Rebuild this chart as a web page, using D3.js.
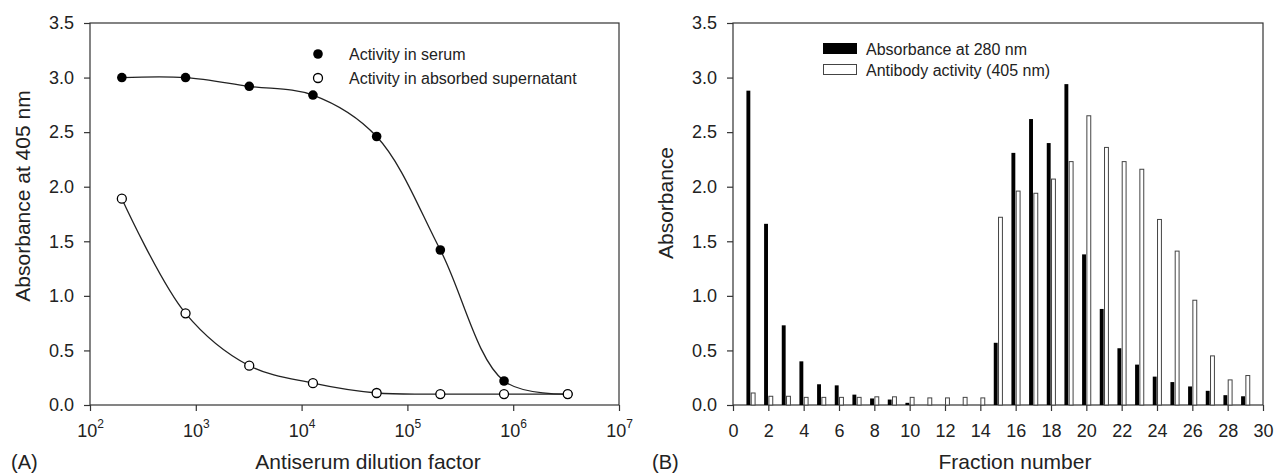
<!DOCTYPE html>
<html>
<head>
<meta charset="utf-8">
<script src="https://cdn.jsdelivr.net/npm/d3@7"></script>
<style>
  body { margin: 0; background: #fff; }
  svg { display: block; }
  text { font-family: "Liberation Sans", Arial, sans-serif; fill: #222; }
  .axis path, .axis line { stroke: #333; stroke-width: 1.2; }
  .axis text { font-size: 18px; fill: #222; }
</style>
</head>
<body>
<div id="grafico"></div>
<script>
// Painel A: diluição do antissoro
const diluicao = [200, 800, 3200, 12800, 51200, 204800, 819200, 3276800];
const soro = [3.00, 3.00, 2.92, 2.84, 2.46, 1.42, 0.22, 0.10];
const sobrenadante = [1.89, 0.84, 0.36, 0.20, 0.11, 0.10, 0.10, 0.10];
const ticksLog = [1e2, 1e3, 1e4, 1e5, 1e6, 1e7];

// Painel B: frações
const fracoes = d3.range(1, 30);
const abs280 = [2.88, 1.66, 0.73, 0.40, 0.19, 0.18, 0.095, 0.06, 0.05, 0.02,
                0, 0, 0, 0, 0.57, 2.31, 2.62, 2.40, 2.94, 1.38,
                0.88, 0.52, 0.37, 0.26, 0.21, 0.17, 0.13, 0.09, 0.08];
const atividade = [0.11, 0.08, 0.08, 0.07, 0.07, 0.07, 0.07, 0.075, 0.075, 0.07,
                   0.065, 0.065, 0.07, 0.065, 1.72, 1.96, 1.94, 2.07, 2.23, 2.65,
                   2.36, 2.23, 2.16, 1.70, 1.41, 0.96, 0.45, 0.23, 0.27];
const ticksY = [0, 0.5, 1.0, 1.5, 2.0, 2.5, 3.0, 3.5];
const ticksFracao = d3.range(0, 31, 2);

const largura = 1275, altura = 476;
const topo = 23, base = 405;

const svg = d3.select("#grafico")
    .append("svg")
    .attr("width", largura)
    .attr("height", altura);

function moldura(x0, x1) {
    svg.append("rect")
        .attr("x", x0).attr("y", topo)
        .attr("width", x1 - x0).attr("height", base - topo)
        .attr("fill", "none").attr("stroke", "#333").attr("stroke-width", 1.2);
}

// ---------- Painel A ----------
const xA = d3.scaleLog().domain([1e2, 1e7]).range([90, 619]);
const yA = d3.scaleLinear().domain([0, 3.5]).range([base, topo]);

moldura(90, 619);

svg.append("g")
    .attr("class", "axis")
    .attr("transform", `translate(90,0)`)
    .call(d3.axisLeft(yA).tickValues(ticksY).tickFormat(d3.format(".1f")).tickSize(6).tickPadding(10))
    .call(g => g.select(".domain").remove());

const eixoXA = svg.append("g")
    .attr("class", "axis")
    .attr("transform", `translate(0,${base})`)
    .call(d3.axisBottom(xA).tickValues(ticksLog).tickFormat("").tickSize(6))
    .call(g => g.select(".domain").remove());

eixoXA.selectAll(".tick")
    .append("text")
    .attr("y", 32)
    .attr("text-anchor", "middle")
    .each(function (d) {
        const t = d3.select(this);
        t.append("tspan").text("10");
        t.append("tspan").attr("dy", -9).attr("font-size", 12).text(Math.round(Math.log10(d)));
    });

const linha = d3.line()
    .x(d => xA(d[0]))
    .y(d => yA(d[1]))
    .curve(d3.curveCatmullRom.alpha(0.5));

const ptsSoro = diluicao.map((d, i) => [d, soro[i]]);
const ptsSobre = diluicao.map((d, i) => [d, sobrenadante[i]]);

svg.append("path").attr("d", linha(ptsSoro))
    .attr("fill", "none").attr("stroke", "#222").attr("stroke-width", 1.3);
svg.append("path").attr("d", linha(ptsSobre))
    .attr("fill", "none").attr("stroke", "#222").attr("stroke-width", 1.3);

svg.selectAll(".soro")
    .data(ptsSoro)
    .enter()
    .append("circle")
    .attr("cx", d => xA(d[0]))
    .attr("cy", d => yA(d[1]))
    .attr("r", 4.8)
    .attr("fill", "#000");

svg.selectAll(".sobre")
    .data(ptsSobre)
    .enter()
    .append("circle")
    .attr("cx", d => xA(d[0]))
    .attr("cy", d => yA(d[1]))
    .attr("r", 4.5)
    .attr("fill", "#fff")
    .attr("stroke", "#000")
    .attr("stroke-width", 1.3);

// legenda A
svg.append("circle").attr("cx", 318).attr("cy", 54).attr("r", 4.8).attr("fill", "#000");
svg.append("circle").attr("cx", 318).attr("cy", 78).attr("r", 4.5)
    .attr("fill", "#fff").attr("stroke", "#000").attr("stroke-width", 1.3);
svg.append("text").attr("x", 349).attr("y", 54).attr("dy", "0.35em")
    .attr("font-size", 16).text("Activity in serum");
svg.append("text").attr("x", 349).attr("y", 78).attr("dy", "0.35em")
    .attr("font-size", 16).text("Activity in absorbed supernatant");

svg.append("text")
    .attr("transform", "translate(23,196) rotate(-90)")
    .attr("text-anchor", "middle").attr("dy", "0.35em")
    .attr("font-size", 21).text("Absorbance at 405 nm");
svg.append("text").attr("x", 368).attr("y", 469)
    .attr("text-anchor", "middle").attr("font-size", 21).text("Antiserum dilution factor");
svg.append("text").attr("x", 11).attr("y", 469)
    .attr("font-size", 20).text("(A)");

// ---------- Painel B ----------
const xB = d3.scaleLinear().domain([0, 30]).range([733, 1263]);
const yB = d3.scaleLinear().domain([0, 3.5]).range([base, topo]);

moldura(733, 1263);

svg.append("g")
    .attr("class", "axis")
    .attr("transform", `translate(733,0)`)
    .call(d3.axisLeft(yB).tickValues(ticksY).tickFormat(d3.format(".1f")).tickSize(6).tickPadding(10))
    .call(g => g.select(".domain").remove());

svg.append("g")
    .attr("class", "axis")
    .attr("transform", `translate(0,${base})`)
    .call(d3.axisBottom(xB).tickValues(ticksFracao).tickSize(6).tickPadding(13))
    .call(g => g.select(".domain").remove());

const larguraBarra = xB(0.22) - xB(0);

svg.selectAll(".barra280")
    .data(fracoes)
    .enter()
    .append("rect")
    .attr("class", "barra280")
    .attr("x", (d) => xB(d - 0.24))
    .attr("y", (d, i) => yB(abs280[i]))
    .attr("width", larguraBarra)
    .attr("height", (d, i) => base - yB(abs280[i]))
    .attr("fill", "#000");

svg.selectAll(".barra405")
    .data(fracoes)
    .enter()
    .append("rect")
    .attr("class", "barra405")
    .attr("x", (d) => xB(d + 0.03))
    .attr("y", (d, i) => yB(atividade[i]))
    .attr("width", larguraBarra)
    .attr("height", (d, i) => base - yB(atividade[i]))
    .attr("fill", "#fff")
    .attr("stroke", "#444")
    .attr("stroke-width", 1);

// legenda B
svg.append("rect").attr("x", 823).attr("y", 43).attr("width", 34).attr("height", 11).attr("fill", "#000");
svg.append("rect").attr("x", 823.5).attr("y", 64.5).attr("width", 33).attr("height", 10)
    .attr("fill", "#fff").attr("stroke", "#444").attr("stroke-width", 1);
svg.append("text").attr("x", 866).attr("y", 49).attr("dy", "0.35em")
    .attr("font-size", 16).text("Absorbance at 280 nm");
svg.append("text").attr("x", 866).attr("y", 70).attr("dy", "0.35em")
    .attr("font-size", 16).text("Antibody activity (405 nm)");

svg.append("text")
    .attr("transform", "translate(666,203) rotate(-90)")
    .attr("text-anchor", "middle").attr("dy", "0.35em")
    .attr("font-size", 21).text("Absorbance");
svg.append("text").attr("x", 1015).attr("y", 469)
    .attr("text-anchor", "middle").attr("font-size", 21).text("Fraction number");
svg.append("text").attr("x", 652).attr("y", 469)
    .attr("font-size", 20).text("(B)");
</script>
</body>
</html>
